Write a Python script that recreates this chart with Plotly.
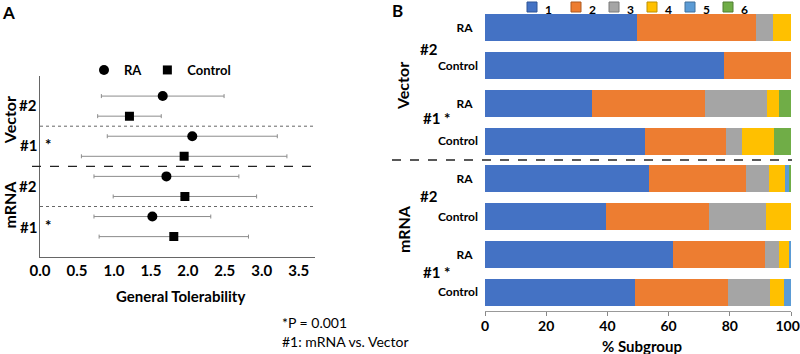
import plotly.graph_objects as go

W, H = 800, 354

# ---------------- data ----------------
rows = ["Vector #2 RA", "Vector #2 Control", "Vector #1 RA", "Vector #1 Control",
        "mRNA #2 RA", "mRNA #2 Control", "mRNA #1 RA", "mRNA #1 Control"]
row_labels = ["RA\u00a0\u00a0", "Control", "RA\u00a0\u00a0", "Control",
              "RA\u00a0\u00a0", "Control", "RA\u00a0\u00a0", "Control"]

# Panel A: General tolerability (mean, error) per group
ra_mean = [1.66, 2.06, 1.71, 1.52]
ra_err = [0.83, 1.15, 0.98, 0.79]
ctrl_mean = [1.21, 1.95, 1.96, 1.81]
ctrl_err = [0.43, 1.39, 0.97, 1.01]
ra_rows = [0, 2, 4, 6]
ctrl_rows = [1, 3, 5, 7]

# Panel B: % subgroup per score category
cat_names = ["1", "2", "3", "4", "5", "6"]
s1 = [49.8, 78.2, 35.0, 52.3, 53.6, 39.6, 61.4, 48.9]
s2 = [38.8, 21.8, 36.9, 26.3, 31.8, 33.5, 30.2, 30.4]
s3 = [5.4, 0.0, 20.4, 5.3, 7.5, 18.7, 4.5, 13.8]
s4 = [6.0, 0.0, 3.8, 10.4, 5.3, 8.2, 3.2, 4.6]
s5 = [0.0, 0.0, 0.0, 0.0, 1.4, 0.0, 0.7, 2.3]
s6 = [0.0, 0.0, 3.9, 5.7, 0.4, 0.0, 0.0, 0.0]
series = [s1, s2, s3, s4, s5, s6]
colors = ["#4472C4", "#ED7D31", "#A5A5A5", "#FFC000", "#5B9BD5", "#70AD47"]
edge_colors = ["#2F5597", "#AE5A21", "#7B7B7B", "#BF9000", "#41719C", "#507E32"]

xticks_a = [0, 0.5, 1.0, 1.5, 2.0, 2.5, 3.0, 3.5]
xticks_b = [0, 20, 40, 60, 80, 100]
xticktext_b = ["0", "20", "40", "60", "80", "100\u00a0\u00a0"]

FONT = "Lato"
def px(x):
    return x / W
def py(y):
    return 1 - y / H

fig = go.Figure()

# ---------------- Panel A ----------------
fig.add_trace(go.Scatter(
    x=ra_mean, y=ra_rows, mode="markers", name="RA",
    marker=dict(symbol="circle", size=10, color="black"),
    error_x=dict(type="data", array=ra_err, color="#8c8c8c", thickness=1, width=2),
    xaxis="x", yaxis="y", legend="legend2"))
fig.add_trace(go.Scatter(
    x=ctrl_mean, y=ctrl_rows, mode="markers", name="Control",
    marker=dict(symbol="square", size=9, color="black"),
    error_x=dict(type="data", array=ctrl_err, color="#8c8c8c", thickness=1, width=2),
    xaxis="x", yaxis="y", legend="legend2"))

# ---------------- Panel B ----------------
for name, vals, col in zip(cat_names, series, colors):
    fig.add_trace(go.Bar(
        x=vals, y=list(range(len(rows))), orientation="h", name=name,
        marker=dict(color=col, line=dict(width=0)), width=0.72,
        xaxis="x2", yaxis="y2", showlegend=False))

shapes = [
    dict(type="line", xref="x", yref="y", x0=0, x1=3.72, y0=1.5, y1=1.5,
         line=dict(color="#666666", width=1, dash="dot")),
    dict(type="line", xref="x", yref="y", x0=0, x1=3.72, y0=5.5, y1=5.5,
         line=dict(color="#666666", width=1, dash="dot")),
    dict(type="line", xref="paper", yref="y", x0=px(32), x1=px(315), y0=3.5, y1=3.5,
         line=dict(color="#222222", width=1.4, dash="dash")),
    dict(type="line", xref="paper", yref="y2", x0=px(392), x1=px(792), y0=3.5, y1=3.5,
         line=dict(color="#222222", width=1.4, dash="dash")),
]

def ann(text, x, y, size=15, xanchor="center", yanchor="middle", textangle=0,
        weight="bold", yref="paper", color="black", family=FONT):
    return dict(text=text, x=x, y=y, xref="paper", yref=yref, showarrow=False,
                xanchor=xanchor, yanchor=yanchor, textangle=textangle,
                font=dict(family=family, size=size, color=color, weight=weight))

annotations = [
    ann("A", px(8), py(12), size=17),
    ann("B", px(397), py(11), size=17),
    # panel A side labels
    ann("Vector", px(9), 1.2, size=16, textangle=-90, yref="y"),
    ann("mRNA", px(9), 5.4, size=16, textangle=-90, yref="y"),
    ann("#2", px(28), 0.45, size=15, yref="y"),
    ann("#1", px(28), 2.45, size=15, yref="y"),
    ann("*", px(48), 2.4, size=15, yref="y"),
    ann("#2", px(28), 4.5, size=15, yref="y"),
    ann("#1", px(28), 6.5, size=15, yref="y"),
    ann("*", px(48), 6.4, size=15, yref="y"),
    ann("General Tolerability", px(180), py(296), size=15),
    # panel B side labels
    ann("Vector", px(402), 1.54, size=16, textangle=-90, yref="y2"),
    ann("mRNA", px(403), 5.33, size=16, textangle=-90, yref="y2"),
    ann("#2", px(429), 0.56, size=15, yref="y2"),
    ann("#1 *", px(436), 2.39, size=15, yref="y2"),
    ann("#2", px(429), 4.46, size=15, yref="y2"),
    ann("#1 *", px(436), 6.47, size=15, yref="y2"),
    ann("% Subgroup", px(642), py(346), size=15),
    # footnote
    ann("*P = 0.001", px(280), py(322), size=14, xanchor="left", weight="normal"),
    ann("#1: mRNA vs. Vector", px(280), py(341), size=14, xanchor="left", weight="normal"),
]

# Panel B legend (compact key, as in the reference)
key_x = [532, 576, 614, 652, 690, 728]
for name, col, ecol, kx in zip(cat_names, colors, edge_colors, key_x):
    shapes.append(dict(type="rect", xref="paper", yref="paper",
                       x0=px(kx - 5), x1=px(kx + 5), y0=py(12), y1=py(2),
                       fillcolor=col, line=dict(color=ecol, width=1)))
    annotations.append(ann(name, px(kx + 11), 1.0, size=12, xanchor="left",
                           yanchor="top"))

fig.update_layout(
    width=W, height=H, margin=dict(l=0, r=0, t=0, b=0, autoexpand=False),
    paper_bgcolor="white", plot_bgcolor="white",
    font=dict(family=FONT, color="black"),
    barmode="stack", bargap=0,
    xaxis=dict(domain=[px(40), px(315)], range=[0, 3.72], anchor="y",
               tickvals=xticks_a, tickformat=".1f", ticks="", showgrid=False,
               zeroline=False, showline=True, linecolor="#666666", linewidth=1,
               tickfont=dict(family=FONT, size=15, color="black", weight="bold")),
    yaxis=dict(domain=[py(256.7), py(76)], range=[8, -1], anchor="x",
               showticklabels=False, ticks="", showgrid=False, zeroline=False,
               showline=True, linecolor="#666666", linewidth=1),
    xaxis2=dict(domain=[px(485), px(791)], range=[0, 100], anchor="y2",
                tickvals=xticks_b, ticktext=xticktext_b, ticks="outside", ticklen=4,
                tickcolor="#888888", showgrid=False, zeroline=False, showline=True,
                linecolor="#999999", linewidth=1, ticklabeloverflow="allow",
                ticklabelstandoff=-2,
                tickfont=dict(family=FONT, size=14, color="black", weight="bold")),
    yaxis2=dict(domain=[py(311), py(9)], range=[7.5, -0.5], anchor="x2",
                tickvals=list(range(len(rows))), ticktext=row_labels, ticks="",
                showgrid=False, zeroline=False, showline=False, ticklabelstandoff=6,
                tickfont=dict(family=FONT, size=12, color="black", weight="bold")),
    legend2=dict(orientation="h", x=px(84), xanchor="left", y=py(55), yanchor="top",
                 font=dict(family=FONT, size=13, color="black", weight="bold"),
                 bgcolor="rgba(0,0,0,0)", itemclick=False),
    shapes=shapes, annotations=annotations,
    showlegend=True,
)

fig.write_html("out.html")
